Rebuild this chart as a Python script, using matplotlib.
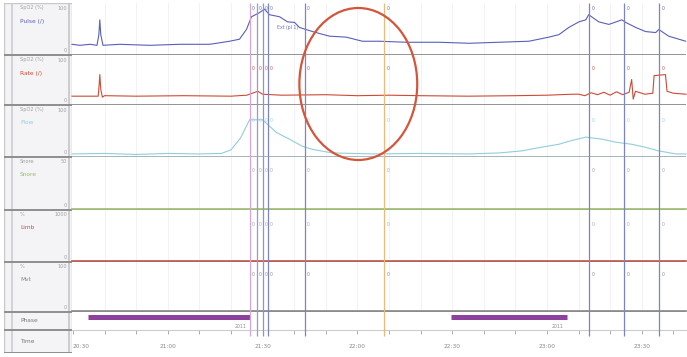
import matplotlib
matplotlib.use("Agg")
import matplotlib.pyplot as plt
from matplotlib.patches import Ellipse, Rectangle

W, H = 687, 357

# ---------------- data (time in minutes after 20:30) ----------------
pulse_t = [-0.3, 2.2, 5.4, 7.6, 8.2, 8.5, 8.8, 9.5, 14.8, 24.3, 33.8, 43.3, 49.6, 52.7,
           54.9, 56.5, 59.0, 60.6, 62.2, 65.4, 67.9, 70.1, 71.7, 75.8, 81.1, 86.5, 91.6,
           96.9, 105.5, 115.9, 125.4, 134.8, 144.3, 150.6, 153.8, 156.9, 160.1, 162.3,
           163.2, 166.4, 169.6, 173.7, 174.9, 178.1, 181.2, 184.4, 185.4, 188.5, 193.9]
pulse_v = [19, 17, 19, 17, 38, 67, 38, 17, 19, 17, 19, 19, 25, 29,
           48, 73, 81, 88, 77, 73, 63, 62, 52, 44, 35, 33, 25,
           25, 23, 23, 21, 23, 25, 33, 38, 52, 63, 67,
           77, 63, 58, 67, 62, 52, 44, 42, 48, 35, 25]

rate_t = [-0.3, 8.0, 8.3, 8.5, 8.8, 9.3, 10, 20, 35, 50, 55, 58.5, 60, 66, 80, 90, 100,
          110, 125, 140, 150, 158, 160, 162, 164, 166, 168, 170, 172, 174, 176, 176.8,
          177.3, 178, 181, 183.5, 183.9, 187.5, 188, 190, 194]
rate_v = [16, 16, 40, 60, 30, 14, 17, 16, 17, 16, 18, 26, 20, 18, 19, 17, 18,
          17, 16, 17, 18, 20, 20, 17, 23, 19, 24, 18, 25, 19, 24, 50,
          10, 26, 20, 22, 58, 60, 26, 22, 20]

flow_t = [-0.3, 10, 20, 30, 40, 47, 50, 53, 55.9, 60, 64.4, 68.5, 72.6, 75.8, 82, 95,
          110, 125, 135, 142, 148, 153.8, 157, 162.3, 167.4, 171.8, 176.8, 181.2, 185.4,
          190.8, 194]
flow_v = [4, 5, 3, 5, 4, 5, 12, 35, 71, 71, 46, 33, 19, 13, 6, 4,
          5, 4, 6, 10, 17, 23, 29, 37, 33, 27, 23, 17, 10,
          4, 4]

flat_t = [-0.3, 194]
snore_v = [0, 0]
limb_v = [0, 0]
mvt_v = [0, 0]

sleep_start = [4.7, 119.7]
sleep_end = [55.9, 156.3]

event_times = [55.9, 58.1, 60.0, 61.6, 73.3, 98.5, 163.3, 174.3, 185.4]
event_colors = ['#dba3d6', '#a792cf', '#8f92cf', '#7c84c8', '#7c84c8', '#eeb878',
                '#7c84c8', '#7c84c8', '#7c84c8']

time_ticks = [0, 30, 60, 90, 120, 150, 180]
time_labels = ['20:30', '21:00', '21:30', '22:00', '22:30', '23:00', '23:30']

row_names = ['Pulse (/)', 'Rate (/)', 'Flow', 'Snore', 'Limb', 'Mvt', 'Phase', 'Time']
row_heads = ['SpO2 (%)', 'SpO2 (%)', 'SpO2 (%)', 'Snore', '%', '%', '', '']
row_scale = ['100', '100', '100', '50', '1000', '100', '', '']
row_colors = ['#5860b8', '#cc4a36', '#8fcfdb', '#9dbb72', '#b8574f', '#888888', '#777777', '#777777']

XMIN, XMAX = -0.3, 194.0
ellipse_center = (90.3, 84)
ellipse_size = (37.3, 152)

# ---------------- layout ----------------
rows = [(3, 55), (55, 105), (105, 157), (157, 210), (210, 262), (262, 312), (312, 330), (330, 353)]
PLOT_L, PLOT_R = 72, 686

fig = plt.figure(figsize=(W / 100, H / 100), dpi=100)
fig.patch.set_facecolor('white')


def fax(x0, y0, x1, y1, **kw):
    return fig.add_axes([x0 / W, 1 - y1 / H, (x1 - x0) / W, (y1 - y0) / H], **kw)


# left label panel
lp = fax(4, 3, PLOT_L, 353)
lp.set_xlim(4, PLOT_L)
lp.set_ylim(353, 3)
lp.axis('off')
lp.add_patch(Rectangle((4, 3), PLOT_L - 4, 350, facecolor='#f4f4f7', edgecolor='#c8c8cc', lw=1))
lp.axvline(12, color='#cdcdd1', lw=1.2)
lp.axvline(PLOT_L - 3, color='#c4c4c8', lw=1.2)
for i, (t, b) in enumerate(rows):
    lp.axhline(b, color='#8e8e8e', lw=1.4)
    if row_heads[i]:
        lp.text(20, t + 5, row_heads[i], fontsize=3.6, color='#a0a0a0', va='center')
    if row_scale[i]:
        lp.text(67, t + 5, row_scale[i], fontsize=3.6, color='#a0a0a0', va='center', ha='right')
        lp.text(67, b - 4, '0', fontsize=3.6, color='#a0a0a0', va='center', ha='right')
    ny = (t + b) / 2 if i >= 6 else t + 18
    lp.text(20, ny, row_names[i], fontsize=4.2, color=row_colors[i], va='center')

# signal rows
series = [(pulse_t, pulse_v), (rate_t, rate_v), (flow_t, flow_v),
          (flat_t, snore_v), (flat_t, limb_v), (flat_t, mvt_v)]
sep_colors = ['#747474', '#747474', '#8aa0a2', '#94b272', '#b35a54', '#808080']
for i in range(6):
    t, b = rows[i]
    ax = fax(PLOT_L, t, PLOT_R, b)
    ax.set_xlim(XMIN, XMAX)
    ax.set_ylim(-2, 100)
    ax.axis('off')
    ax.set_facecolor('none')
    ax.axhline(-2, color=sep_colors[i], lw=1.8, zorder=1)
    for g in range(10, 190, 10):
        ax.axvline(g, color='#efecf3', lw=0.5, zorder=0)
    xs, ys = series[i]
    lw = 0.8 if i < 3 else 1.2
    ax.plot(xs, ys, color=row_colors[i], lw=lw, zorder=3, clip_on=False)

# phase row
pax = fax(PLOT_L, rows[6][0], PLOT_R, rows[6][1])
pax.set_xlim(XMIN, XMAX)
pax.set_ylim(0, 1)
pax.axis('off')
pax.hlines([0.75] * len(sleep_start), sleep_start, sleep_end, color='#8e409e', lw=3.6)
for s in sleep_end:
    pax.text(s - 1, 0.2, '2011', fontsize=3.3, color='#8a8a8a', ha='right', va='center')

# time axis row
tax = fax(PLOT_L, rows[7][0], PLOT_R, rows[7][1])
tax.set_xlim(XMIN, XMAX)
tax.set_ylim(0, 1)
for s in tax.spines.values():
    s.set_visible(False)
tax.spines['top'].set_visible(True)
tax.spines['top'].set_color('#cccccc')
tax.xaxis.tick_top()
tax.set_xticks(time_ticks)
tax.set_xticks(list(range(10, 194, 10)), minor=True)
tax.tick_params(axis='x', which='both', direction='in', colors='#a0a0a0', length=3, width=0.6, labeltop=False)
tax.set_yticks([])
for k, (tt, lab) in enumerate(zip(time_ticks, time_labels)):
    tax.text(tt, 0.3, lab, fontsize=4.2, color='#8a8a8a',
             ha='left' if k == 0 else 'center', va='center')

# event lines + overlay
ov = fax(PLOT_L, 0, PLOT_R, H)
ov.set_xlim(XMIN, XMAX)
ov.set_ylim(H, 0)
ov.axis('off')
ov.patch.set_alpha(0)
for et, ec in zip(event_times, event_colors):
    ov.vlines(et, 3, 336, color=ec, lw=0.9, zorder=2)
label_rows = [8, 68, 120, 170, 225, 275]
row_label_colors = ['#6a72c0', '#cc5a46', '#9fd3dd', '#a8a8a8', '#a8a8a8', '#909090']
for ly, lc in zip(label_rows, row_label_colors):
    for et in event_times:
        ov.text(et + 0.8, ly, '0', fontsize=3.3, color=lc, ha='left', va='center')
ov.text(64.5, 27, 'Ext (pl 1)', fontsize=3.3, color='#6a72c0', ha='left', va='center')
ov.add_patch(Ellipse(ellipse_center, ellipse_size[0], ellipse_size[1], fill=False,
                     edgecolor='#d4553a', lw=1.6, zorder=5))

fig.savefig('out.png', dpi=100, facecolor='white')
